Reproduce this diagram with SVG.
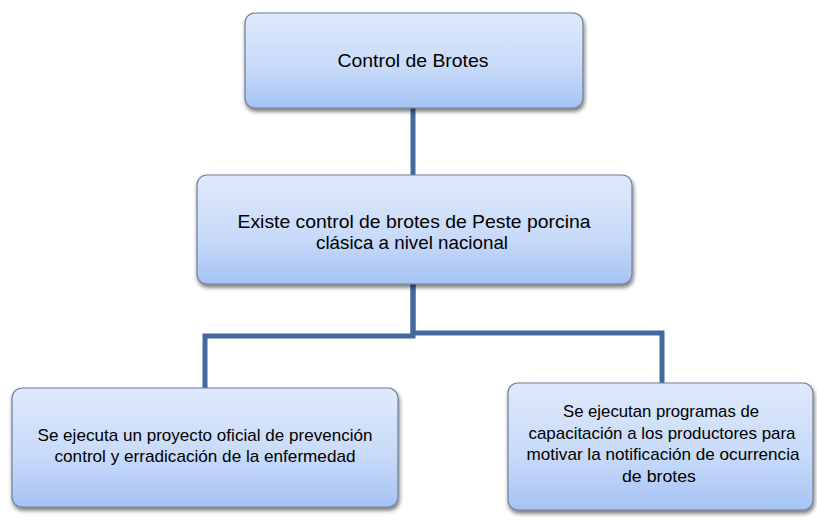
<svg xmlns="http://www.w3.org/2000/svg" width="817" height="529" viewBox="0 0 817 529">
<defs>
<linearGradient id="g" x1="0" y1="0" x2="0" y2="1">
<stop offset="0" stop-color="#dfe9fb"/>
<stop offset="0.55" stop-color="#c9dbf9"/>
<stop offset="1" stop-color="#a6c3f4"/>
</linearGradient>
<filter id="sh" x="-10%" y="-10%" width="125%" height="130%">
<feGaussianBlur in="SourceAlpha" stdDeviation="2"/>
<feOffset dx="1" dy="3" result="b"/>
<feComponentTransfer><feFuncA type="linear" slope="0.55"/></feComponentTransfer>
<feMerge><feMergeNode/><feMergeNode in="SourceGraphic"/></feMerge>
</filter>
</defs>
<style>
.box{fill:url(#g);stroke:#6f7f99;stroke-width:1.2;filter:url(#sh)}
.t{font-family:"Liberation Sans",Arial,sans-serif;font-size:18.2px;fill:#000;text-anchor:middle}
.s{font-size:17px}
.c{fill:none;stroke:#44699d;stroke-width:5;stroke-linejoin:miter}
</style>
<rect width="817" height="529" fill="#fff"/>
<g id="connectors">
<path class="c" d="M413 107 V175"/>
<path class="c" d="M413 284 V336 H205 V388"/>
<path class="c" d="M413 284 V333 H662 V383"/>
</g>
<g id="n1">
<rect class="box" x="245" y="13" width="338" height="95" rx="10"/>
<text class="t" x="413" y="67" textLength="151" lengthAdjust="spacingAndGlyphs">Control de Brotes</text>
</g>
<g id="n2">
<rect class="box" x="197" y="175" width="435" height="109" rx="10"/>
<text class="t" x="414" y="228" textLength="353" lengthAdjust="spacingAndGlyphs">Existe control de brotes de Peste porcina</text>
<text class="t" x="412" y="249" textLength="192" lengthAdjust="spacingAndGlyphs">clásica a nivel nacional</text>
</g>
<g id="n3">
<rect class="box" x="12" y="388" width="386" height="119" rx="10"/>
<text class="t s" x="205" y="441" textLength="335" lengthAdjust="spacingAndGlyphs">Se ejecuta un proyecto oficial de prevención</text>
<text class="t s" x="205" y="462" textLength="301" lengthAdjust="spacingAndGlyphs">control y erradicación de la enfermedad</text>
</g>
<g id="n4">
<rect class="box" x="508" y="383" width="305" height="127" rx="10"/>
<text class="t s" x="661" y="417" textLength="196" lengthAdjust="spacingAndGlyphs">Se ejecutan programas de</text>
<text class="t s" x="662" y="439" textLength="267" lengthAdjust="spacingAndGlyphs">capacitación a los productores para</text>
<text class="t s" x="663" y="460" textLength="273" lengthAdjust="spacingAndGlyphs">motivar la notificación de ocurrencia</text>
<text class="t s" x="659" y="482" textLength="74" lengthAdjust="spacingAndGlyphs">de brotes</text>
</g>
</svg>
